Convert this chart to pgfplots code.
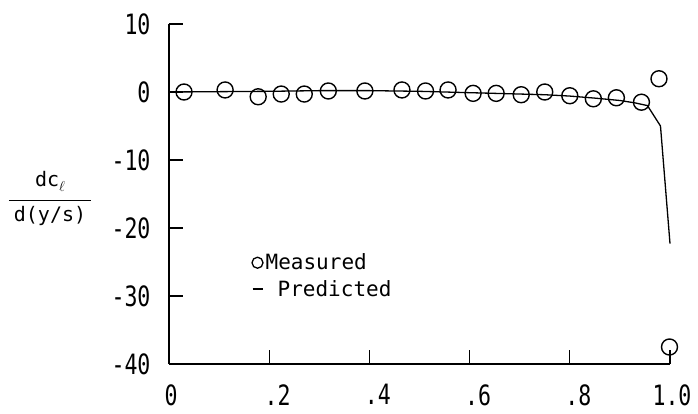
\documentclass[border=0pt]{standalone}
\usepackage{pgfplots}
\pgfplotsset{compat=1.18}
\usepackage{fontspec}
\setmainfont{DejaVu Sans Mono}
\newfontfamily\tickfont{DejaVu Sans Mono}[FakeStretch=0.77]
\setlength{\arrayrulewidth}{1.2pt}
\newcommand{\dl}[2]{\makebox[12.5pt][r]{#1}.\makebox[12.5pt][l]{#2}}
\begin{document}
\begin{tikzpicture}
\begin{axis}[
  scale only axis, width=501pt, height=340pt,
  xmin=0, xmax=1, ymin=-40, ymax=10,
  axis x line=bottom, axis y line=left,
  axis line style={-, line width=1.6pt},
  tick align=inside, major tick length=14pt,
  every tick/.style={black, line width=1.2pt},
  xtick={0,0.2,0.4,0.6,0.8,1},
  xticklabels={0,\dl{}{2},\dl{}{4},\dl{}{6},\dl{}{8},\dl{1}{0}},
  ytick={-40,-30,-20,-10,0,10},
  yticklabels={-40,-30,-20,-10,0,10},
  xticklabel style={font=\fontsize{28}{28}\tickfont, xshift=2pt, yshift=-17pt},
  yticklabel style={font=\fontsize{28}{28}\tickfont, xshift=-15pt},
  ylabel={\begin{tabular}{@{\hspace{5pt}}c@{\hspace{5pt}}}dc\raisebox{-5pt}{$\scriptstyle\ell$}\\[6pt]\hline\rule{0pt}{20pt}d(y/s)\end{tabular}},
  ylabel style={rotate=-90, at={(axis description cs:-0.2375,0.4844)}, anchor=center, font=\fontsize{20}{24}\selectfont},
  legend style={draw=none, fill=none, at={(axis description cs:0.164,0.33)}, anchor=north west,
    font=\fontsize{21}{25}\selectfont, row sep=5pt, inner sep=0pt, legend cell align=left},
  clip=false,
]
\addplot[only marks, mark=o, mark size=8pt, mark options={line width=1.4pt},
  legend image code/.code={\draw[line width=1.3pt] (5.5pt,0pt) circle (5.5pt);}]
  coordinates {
  (0.03,0) (0.112,0.3) (0.178,-0.7) (0.224,-0.3) (0.27,-0.3) (0.318,0.15)
  (0.391,0.15) (0.465,0.3) (0.512,0.15) (0.557,0.3) (0.607,-0.2) (0.653,-0.2)
  (0.703,-0.4) (0.75,0) (0.80,-0.55) (0.847,-1.0) (0.893,-0.85) (0.943,-1.5)
  (0.978,1.95) (0.999,-37.5)
  };
\addlegendentry{Measured}
\addplot[black, line width=1.3pt, no marks, sharp plot,
  legend image code/.code={\draw[line width=1.5pt] (0.5pt,0pt) -- (10.5pt,0pt);}]
  coordinates {
  (0,0) (0.1,0.05) (0.2,0.1) (0.3,0.2) (0.4,0.2) (0.5,0.1) (0.6,-0.1)
  (0.7,-0.3) (0.75,-0.4) (0.8,-0.6) (0.85,-0.9) (0.9,-1.25) (0.93,-1.6)
  (0.955,-2.0) (0.981,-5.0) (1.0,-22.3)
  };
\addlegendentry{\hspace*{12pt}Predicted}
\end{axis}
\pgfresetboundingbox
\path[use as bounding box] (-169pt,-50pt) rectangle (529pt,364pt);
\end{tikzpicture}
\end{document}
